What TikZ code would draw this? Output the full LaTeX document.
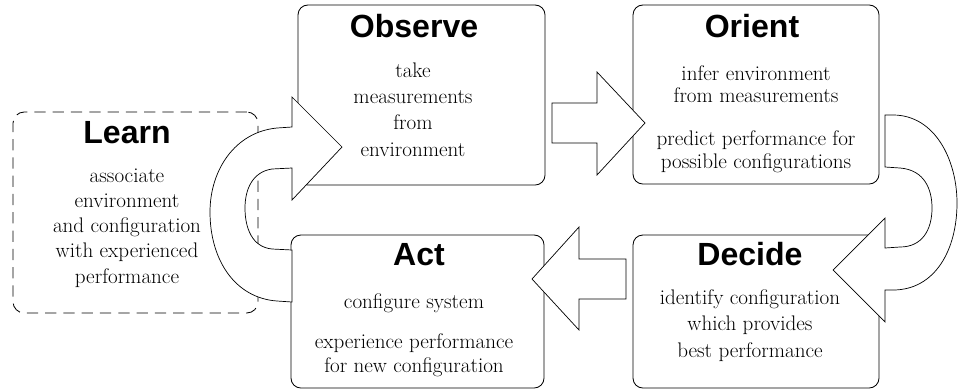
\documentclass[tikz,border=0pt]{standalone}
\usepackage{fontspec}
\newfontfamily\headfont{Liberation Sans}
\usetikzlibrary{fit}

\begin{document}
\begin{tikzpicture}[x=0.025cm,y=-0.025cm,
  stage/.style={draw,line width=0.6pt,rounded corners=7pt,inner sep=0pt},
  learnbox/.style={draw,line width=0.6pt,dash pattern=on 8pt off 5pt,rounded corners=8pt,inner sep=0pt},
  blockarrow/.style={draw,fill=white,line width=0.5pt,line join=miter},
  head/.style={font=\headfont\bfseries\fontsize{22.8}{26}\selectfont,anchor=base,inner sep=0pt},
  body/.style={font=\fontsize{15}{17.8}\selectfont,align=center,anchor=base,inner sep=0pt}]

\useasboundingbox (0,0) rectangle (958,389);

\node[learnbox,fit={(13,112) (258,313)}] (learn) {};
\node[stage,fit={(298,5) (545,185)}] (observe) {};
\node[stage,fit={(633,5) (879,184)}] (orient) {};
\node[stage,fit={(633,235) (879,388)}] (decide) {};
\node[stage,fit={(291,235) (544,388)}] (act) {};

\draw[blockarrow] (552,103) -- (597,103) -- (597,72) -- (645,123) -- (597,175) -- (597,143) -- (552,143) -- cycle;
\draw[blockarrow] (626,259) -- (579,259) -- (579,227) -- (532,279) -- (579,330) -- (579,299) -- (626,299) -- cycle;
\draw[blockarrow] (885,115) -- (893,115) .. controls (935,115) and (957,160) .. (957,203) .. controls (957,250) and (935,290) .. (893,290) -- (885,290) -- (885,322) -- (833,270) -- (885,218) -- (885,248) -- (900,247) .. controls (922,247) and (932,230) .. (932,208) .. controls (932,190) and (925,170) .. (900,168) -- (885,167) -- cycle;
\draw[blockarrow] (292,302) -- (277,301) .. controls (235,298) and (210,260) .. (210,212) .. controls (210,170) and (235,132) .. (277,128) -- (292,127) -- (292,97) -- (342,147) -- (292,200) -- (292,168) -- (272,169) .. controls (252,172) and (245,190) .. (245,208) .. controls (245,228) and (252,247) .. (272,249) -- (292,250) -- cycle;

\node[head] (learntitle) at (127,143) {Learn};
\node[body] (learntext) at (127,283) {associate\\environment\\and configuration\\with experienced\\performance};

\node[head] (observetitle) at (414,37) {Observe};
\node[body,font=\fontsize{15}{18.5}\selectfont] (observetext) at (413,156) {take\\measurements\\from\\environment};

\node[head] (orienttitle) at (752,37) {Orient};
\node[body,font=\fontsize{15}{15.8}\selectfont] (orienttext) at (756,168) {infer environment\\from measurements\\[15pt]predict performance for\\possible configurations};

\node[head] (decidetitle) at (750,265) {Decide};
\node[body,font=\fontsize{15}{18.5}\selectfont] (decidetext) at (750,357) {identify configuration\\which provides\\best performance};

\node[head] (acttitle) at (419,265) {Act};
\node[body,font=\fontsize{15}{17}\selectfont] (acttext) at (414,372) {configure system\\[11pt]experience performance\\for new configuration};

\end{tikzpicture}
\end{document}
